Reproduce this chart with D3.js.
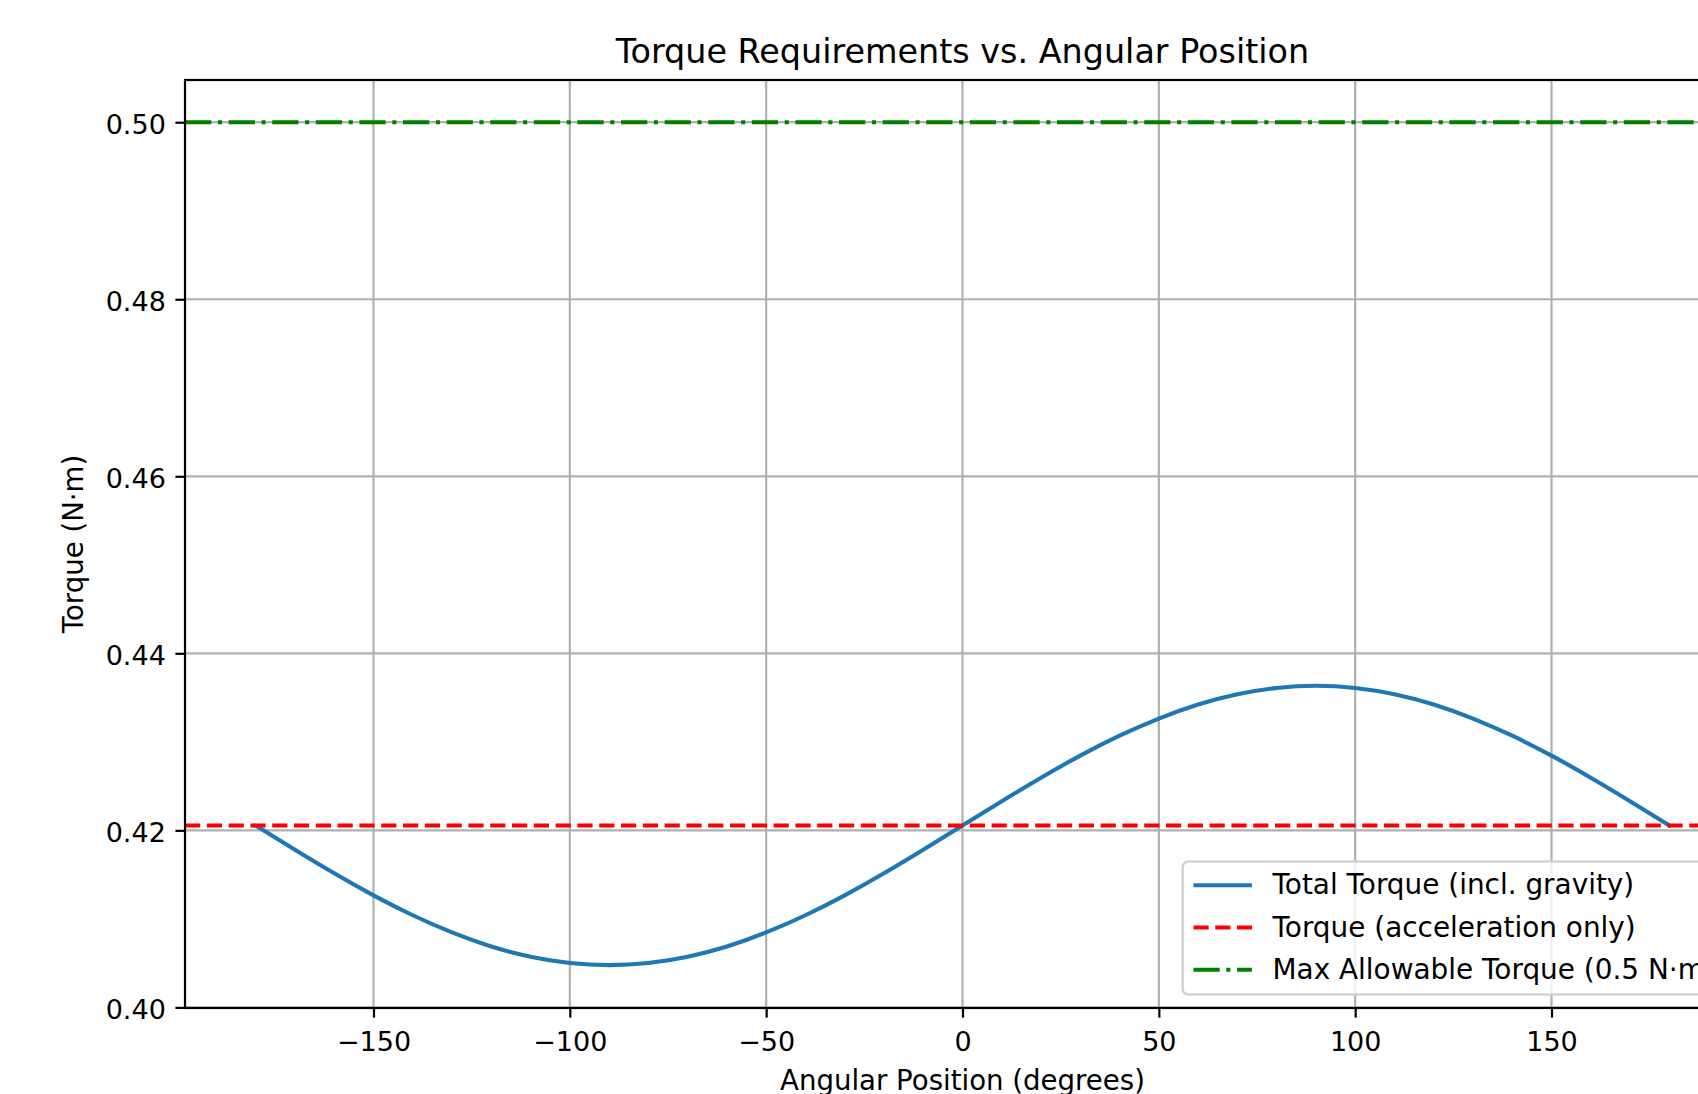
<!DOCTYPE html>
<html>
<head>
<meta charset="utf-8">
<script src="https://cdn.jsdelivr.net/npm/d3@7"></script>
<style>
  html, body { margin: 0; padding: 0; background: #fff; overflow: hidden; }
  svg { display: block; font-family: 'DejaVu Sans', sans-serif; }
</style>
</head>
<body>
<svg></svg>
<script>
// angle (deg) and total torque (N·m), every 10 degrees
const angles = [-180, -170, -160, -150, -140, -130, -120, -110, -100, -90,
  -80, -70, -60, -50, -40, -30, -20, -10, 0, 10, 20, 30, 40, 50, 60, 70, 80,
  90, 100, 110, 120, 130, 140, 150, 160, 170, 180];
const totalTorque = [0.42055, 0.41781, 0.41515, 0.41266, 0.41041, 0.40847,
  0.40688, 0.40572, 0.40501, 0.40477, 0.40501, 0.40572, 0.40688, 0.40847,
  0.41041, 0.41266, 0.41515, 0.41781, 0.42055, 0.42329, 0.42595, 0.42844,
  0.43069, 0.43263, 0.43422, 0.43538, 0.43609, 0.43633, 0.43609, 0.43538,
  0.43422, 0.43263, 0.43069, 0.42844, 0.42595, 0.42329, 0.42055];
const accelTorque = 0.42055;
const maxTorque = 0.5;

const xTicks = [-150, -100, -50, 0, 50, 100, 150];
const yTicks = [0.40, 0.42, 0.44, 0.46, 0.48, 0.50];

const legendLabels = [
  'Total Torque (incl. gravity)',
  'Torque (acceleration only)',
  'Max Allowable Torque (0.5 N·m)'
];

const colors = ['#1f77b4', '#ff0000', '#008000'];
const dashes = [null, '15.2,6.6', '26.3,6.6,4.1,6.6'];

const [width, height] = [1698, 1094];
const plot = {left: 185, right: 1740, top: 80, bottom: 1008};
const fs = 27;

const data = angles.map((a, i) => ({a, v: totalTorque[i]}));

const x = d3.scaleLinear()
  .domain([-198, 198])
  .range([plot.left, plot.right]);

const y = d3.scaleLinear()
  .domain([0.39993, 0.50477])
  .range([plot.bottom, plot.top]);

const svg = d3.select('svg')
  .attr('width', width)
  .attr('height', height)
  .attr('viewBox', [0, 0, width, height]);

svg.append('clipPath')
  .attr('id', 'clip')
  .append('rect')
  .attr('x', plot.left).attr('y', plot.top)
  .attr('width', plot.right - plot.left)
  .attr('height', plot.bottom - plot.top);

// grid
const grid = svg.append('g').attr('stroke', '#b0b0b0').attr('stroke-width', 2.2);
grid.selectAll('.gx').data(xTicks).join('line')
  .attr('x1', d => x(d)).attr('x2', d => x(d))
  .attr('y1', plot.top).attr('y2', plot.bottom);
grid.selectAll('.gy').data(yTicks).join('line')
  .attr('y1', d => y(d)).attr('y2', d => y(d))
  .attr('x1', plot.left).attr('x2', plot.right);

// lines
const lines = svg.append('g').attr('clip-path', 'url(#clip)');

const line = d3.line().curve(d3.curveNatural)
  .x(d => x(d.a))
  .y(d => y(d.v));

lines.append('path')
  .datum(data)
  .attr('fill', 'none')
  .attr('stroke', colors[0])
  .attr('stroke-width', 4.1)
  .attr('stroke-linecap', 'square')
  .attr('d', line);

lines.append('line')
  .attr('x1', plot.left).attr('x2', plot.right)
  .attr('y1', y(accelTorque)).attr('y2', y(accelTorque))
  .attr('stroke', colors[1])
  .attr('stroke-width', 4.1)
  .attr('stroke-dasharray', dashes[1]);

lines.append('line')
  .attr('x1', plot.left).attr('x2', plot.right)
  .attr('y1', y(maxTorque)).attr('y2', y(maxTorque))
  .attr('stroke', colors[2])
  .attr('stroke-width', 4.1)
  .attr('stroke-dasharray', dashes[2]);

// axes
const xAxis = d3.axisBottom(x)
  .tickValues(xTicks)
  .tickSize(9.6)
  .tickPadding(14.5)
  .tickFormat(d3.format('d'));
const yAxis = d3.axisLeft(y)
  .tickValues(yTicks)
  .tickSize(9.6)
  .tickPadding(9.6)
  .tickFormat(d3.format('.2f'));

{
  const s = svg.append('g')
    .attr('transform', `translate(0,${plot.bottom})`)
    .call(xAxis);
  s.select('.domain').remove();
  s.selectAll('.tick line').attr('stroke', '#000').attr('stroke-width', 2.2);
  s.selectAll('.tick text')
    .attr('fill', '#000')
    .attr('font-size', fs)
    .attr('font-family', 'DejaVu Sans')
    .attr('dy', '0.71em');
}
{
  const s = svg.append('g')
    .attr('transform', `translate(${plot.left},0)`)
    .call(yAxis);
  s.select('.domain').remove();
  s.selectAll('.tick line').attr('stroke', '#000').attr('stroke-width', 2.2);
  s.selectAll('.tick text')
    .attr('fill', '#000')
    .attr('font-size', fs)
    .attr('font-family', 'DejaVu Sans')
    .attr('dy', '0.42em');
}

// spines
svg.append('rect')
  .attr('x', plot.left).attr('y', plot.top)
  .attr('width', plot.right - plot.left)
  .attr('height', plot.bottom - plot.top)
  .attr('fill', 'none')
  .attr('stroke', '#000')
  .attr('stroke-width', 2.2);

// labels
svg.append('text')
  .attr('x', (plot.left + plot.right) / 2)
  .attr('y', 63)
  .attr('text-anchor', 'middle')
  .attr('font-size', 33.4)
  .text('Torque Requirements vs. Angular Position');

svg.append('text')
  .attr('x', (plot.left + plot.right) / 2)
  .attr('y', 1090)
  .attr('text-anchor', 'middle')
  .attr('font-size', 27.6)
  .text('Angular Position (degrees)');

svg.append('text')
  .attr('transform', `translate(83,${(plot.top + plot.bottom) / 2}) rotate(-90)`)
  .attr('text-anchor', 'middle')
  .attr('font-size', 27.6)
  .text('Torque (N·m)');

// legend, lower right
{
  const lfs = 27.9;
  const pad = 10.8, handleLen = 58.5, handleGap = 20.6, rowStep = 42.3;
  const g = svg.append('g');
  const box = g.append('rect')
    .attr('rx', 5.6)
    .attr('fill', '#fff')
    .attr('fill-opacity', 0.8)
    .attr('stroke', '#cccccc')
    .attr('stroke-width', 2.2);

  const rows = g.selectAll('.row').data(legendLabels).join('g')
    .attr('transform', (d, i) => `translate(0,${23.7 + i * rowStep})`);
  rows.append('line')
    .attr('x1', pad).attr('x2', pad + handleLen)
    .attr('stroke', (d, i) => colors[i])
    .attr('stroke-width', 4.1)
    .attr('stroke-dasharray', (d, i) => dashes[i]);
  rows.append('text')
    .attr('x', pad + handleLen + handleGap)
    .attr('dy', '0.33em')
    .attr('font-size', lfs)
    .text(d => d);

  let textW = 0;
  rows.select('text').each(function() {
    textW = Math.max(textW, this.getComputedTextLength());
  });
  const w = pad + handleLen + handleGap + textW + pad;
  const h = 133;
  box.attr('width', w).attr('height', h);
  g.attr('transform', `translate(${plot.right - 13.5 - w},${plot.bottom - 13.5 - h})`);
}
</script>
</body>
</html>
